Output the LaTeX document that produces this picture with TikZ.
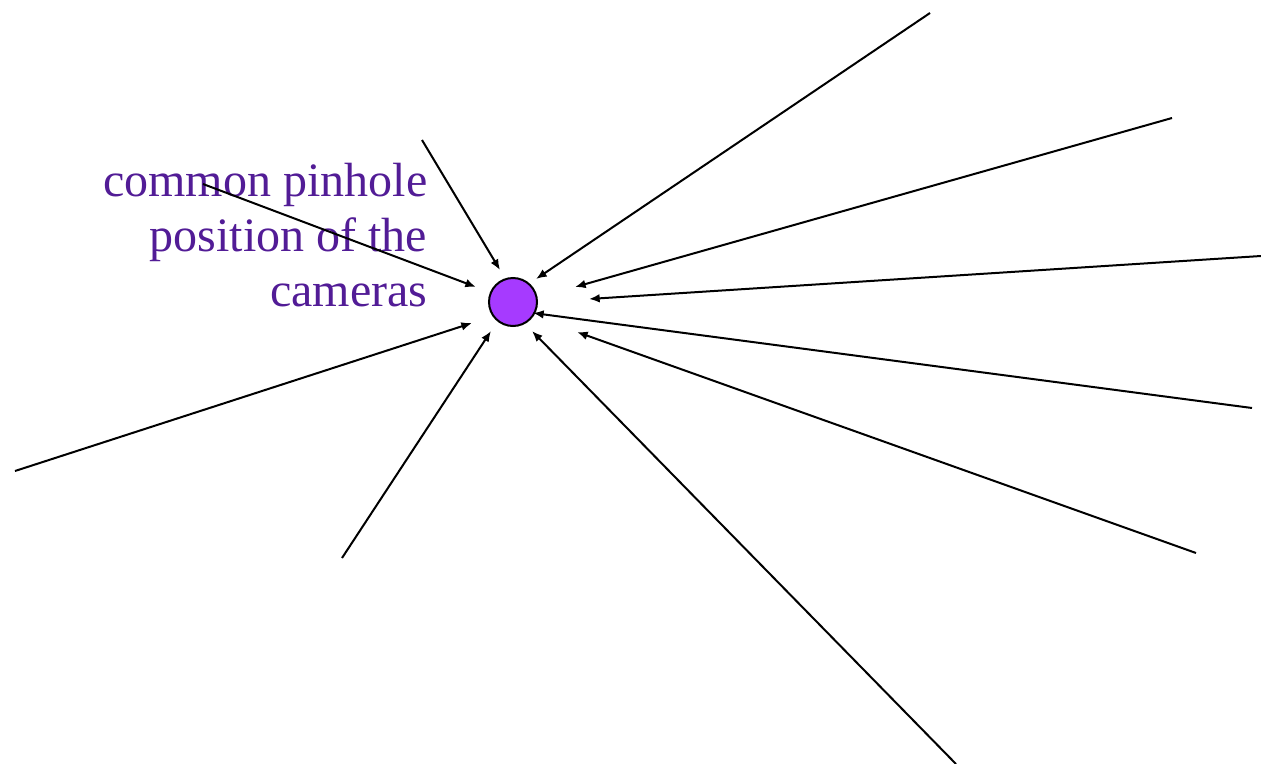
\documentclass[tikz,border=0pt]{standalone}
\usepackage{fontspec}
\setmainfont{Liberation Serif}
\usetikzlibrary{arrows.meta}
\definecolor{labelpurple}{RGB}{82,28,150}
\definecolor{pinfill}{RGB}{166,58,255}
\begin{document}
\begin{tikzpicture}[x=0.75pt,y=-0.75pt,
  ray/.style={line width=1.5pt,-{Latex[length=8pt,width=6.5pt]}},
  pin/.style={circle,draw,line width=1.5pt,fill=pinfill,minimum size=36pt,inner sep=0pt}]
\useasboundingbox (0,0) rectangle (1261,764);
\node[pin] (p) at (513,302) {};
\node[text=labelpurple,align=right,anchor=east,font=\fontsize{36}{41}\selectfont] (lab) at (432,235) {common pinhole\\position of the\\cameras};
\coordinate (s1) at (422,140);  \coordinate (e1) at (500,270);
\coordinate (s2) at (930,13);   \coordinate (e2) at (536,279);
\coordinate (s3) at (1172,118); \coordinate (e3) at (575,287);
\coordinate (s4) at (1261,256); \coordinate (e4) at (589,299);
\coordinate (s5) at (1252,408); \coordinate (e5) at (533,313);
\coordinate (s6) at (1196,553); \coordinate (e6) at (577,332);
\coordinate (s7) at (956,764);  \coordinate (e7) at (532,331);
\coordinate (s8) at (342,558);  \coordinate (e8) at (491,331);
\coordinate (s9) at (15,471);   \coordinate (e9) at (472,323);
\coordinate (s10) at (203,184); \coordinate (e10) at (476,287);
\foreach \i in {1,...,10} {\draw[ray] (s\i) -- (e\i);}
\end{tikzpicture}
\end{document}
